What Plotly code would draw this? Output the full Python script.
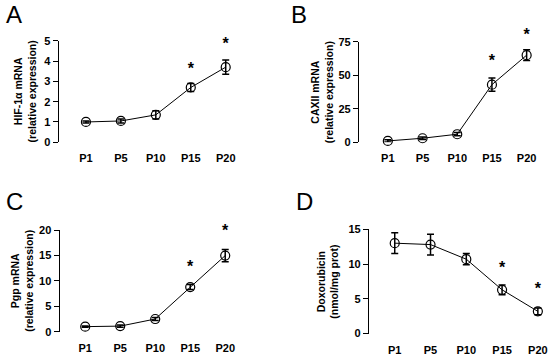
import plotly.graph_objects as go

W, H = 550, 358
categories = ["P1", "P5", "P10", "P15", "P20"]

# Panel A: HIF-1alpha mRNA
a_mean = [1.0, 1.05, 1.35, 2.7, 3.7]
a_err = [0.05, 0.1, 0.2, 0.2, 0.35]
a_star = [None, None, None, 3.55, 4.8]
# Panel B: CAXII mRNA
b_mean = [1.0, 3.0, 6.0, 43.0, 65.0]
b_err = [0.8, 1.0, 1.2, 5.0, 4.0]
b_star = [None, None, None, 60.0, 79.0]
# Panel C: Pgp mRNA
c_mean = [1.0, 1.1, 2.5, 8.8, 15.0]
c_err = [0.1, 0.2, 0.3, 0.5, 1.2]
c_star = [None, None, None, 12.5, 19.7]
# Panel D: Doxorubicin
d_mean = [13.0, 12.8, 10.7, 6.3, 3.2]
d_err = [1.5, 1.5, 0.8, 0.7, 0.5]
d_star = [None, None, None, 9.3, 6.2]

panels = [
    dict(name="A", mean=a_mean, err=a_err, star=a_star, yr=[0, 5], dt=1,
         title="HIF-1α mRNA<br>(relative expression)",
         px=(59, 241), py=(36, 141), xr=[-0.78, 4.4], tx=25, lx=4, ly=-7),
    dict(name="B", mean=b_mean, err=b_err, star=b_star, yr=[0, 75], dt=25,
         title="CAXII mRNA<br>(relative expression)",
         px=(361, 540), py=(37, 141), xr=[-0.83, 4.3], tx=324, lx=291, ly=-7),
    dict(name="C", mean=c_mean, err=c_err, star=c_star, yr=[0, 20], dt=5,
         title="Pgp mRNA<br>(relative expression)",
         px=(60, 237), py=(232, 337), xr=[-0.73, 4.3], tx=22, lx=4, ly=186),
    dict(name="D", mean=d_mean, err=d_err, star=d_star, yr=[0, 15], dt=5,
         title="Doxorubicin<br>(nmol/mg prot)",
         px=(371, 548), py=(231, 339), xr=[-0.72, 4.2], tx=330, lx=296, ly=186),
]

FONT = "Liberation Sans, Arial, sans-serif"
EXTRA = 25  # px of headroom for the significance stars
fig = go.Figure()
tickfont = dict(family=FONT, size=11, color="black")
annotations = []
for i, p in enumerate(panels, start=1):
    xa = "x" if i == 1 else f"x{i}"
    ya = "y" if i == 1 else f"y{i}"
    sa = f"y{i + 4}"
    xs = list(range(len(categories)))
    fig.add_trace(go.Scatter(
        x=xs, y=p["mean"], xaxis=xa, yaxis=ya, mode="lines+markers",
        line=dict(color="black", width=1),
        marker=dict(symbol="circle-open", size=9, color="black", line=dict(width=1.2)),
        error_y=dict(type="data", array=p["err"], visible=True, color="black",
                     thickness=1.5, width=3.5),
        showlegend=False, hoverinfo="skip", cliponaxis=False))
    sx = [x for x, s in zip(xs, p["star"]) if s is not None]
    sy = [s for s in p["star"] if s is not None]
    fig.add_trace(go.Scatter(
        x=sx, y=sy, xaxis=xa, yaxis=sa, mode="text", text=["<b>*</b>"] * len(sx),
        textposition="middle center", cliponaxis=False,
        textfont=dict(family=FONT, size=16, color="black"),
        showlegend=False, hoverinfo="skip"))
    xdom = [p["px"][0] / W, p["px"][1] / W]
    ydom = [1 - p["py"][1] / H, 1 - p["py"][0] / H]
    hpx = p["py"][1] - p["py"][0]
    fig.layout[f"xaxis{'' if i == 1 else i}"] = dict(
        domain=xdom, range=p["xr"], anchor=ya, tickmode="array", tickvals=xs,
        ticktext=[f"<b>{c}</b>" for c in categories], showline=False, showgrid=False,
        zeroline=False, ticks="outside", ticklen=6, tickcolor="rgba(0,0,0,0)",
        tickfont=tickfont, fixedrange=True, ticklabeloverflow="allow")
    yticks = list(range(p["yr"][0], p["yr"][1] + 1, p["dt"]))
    fig.layout[f"yaxis{'' if i == 1 else i}"] = dict(
        domain=ydom, range=p["yr"], anchor=xa, tickmode="array", tickvals=yticks,
        ticktext=[f"<b>{v}</b>" for v in yticks], showline=True, linecolor="black",
        linewidth=1.2, ticks="outside", ticklen=5, tickwidth=1.2, tickcolor="black",
        showgrid=False, zeroline=False, tickfont=tickfont, fixedrange=True,
        ticklabeloverflow="allow")
    # invisible companion axis with the same scale but extra headroom for stars
    fig.layout[f"yaxis{i + 4}"] = dict(
        domain=[ydom[0], ydom[1] + EXTRA / H], anchor=xa, visible=False,
        range=[p["yr"][0], p["yr"][1] * (hpx + EXTRA) / hpx], fixedrange=True,
        showgrid=False, zeroline=False)
    annotations.append(dict(
        x=p["tx"] / W, y=1 - (p["py"][0] + p["py"][1]) / 2 / H, xref="paper", yref="paper",
        text=f"<b>{p['title']}</b>", textangle=-90, showarrow=False,
        font=dict(family=FONT, size=10.5, color="black"),
        xanchor="center", yanchor="middle"))
    annotations.append(dict(
        x=p["lx"] / W, y=1 - p["ly"] / H, xref="paper", yref="paper", text=p["name"],
        showarrow=False, xanchor="left", yanchor="top",
        font=dict(family=FONT, size=24, color="black")))

fig.update_layout(width=W, height=H, margin=dict(l=0, r=0, t=0, b=0),
                  paper_bgcolor="white", plot_bgcolor="rgba(0,0,0,0)",
                  annotations=annotations)
fig.write_html("out.html", config={"displayModeBar": False},
               post_script="document.body.style.margin='0px';")
